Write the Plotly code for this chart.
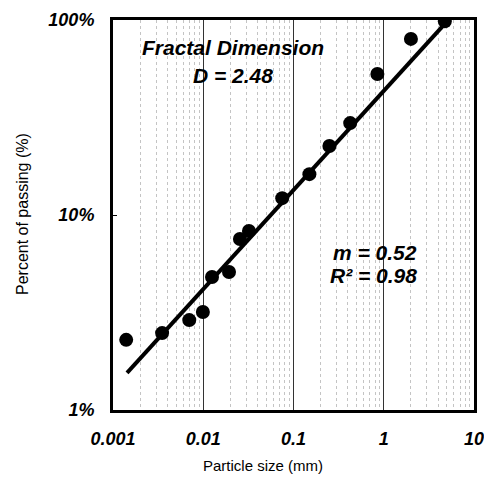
import plotly.graph_objects as go

# Data (particle size in mm, percent passing)
size_mm = [0.0014, 0.0035, 0.0070, 0.0099, 0.0125, 0.0193, 0.0255, 0.0321,
           0.075, 0.15, 0.25, 0.425, 0.85, 2.0, 4.75]
passing_pct = [2.29, 2.48, 2.89, 3.18, 4.81, 5.10, 7.53, 8.28,
               12.2, 16.2, 22.6, 29.6, 52.9, 80.0, 98.5]

# Fitted line end points
fit_x = [0.00143, 5.0]
fit_y = [1.55, 98.0]

x_tickvals = [0.001, 0.01, 0.1, 1, 10]
x_ticktext = ["0.001", "0.01", "0.1", "1", "10"]
y_tickvals = [1, 10, 100]
y_ticktext = ["1%", "10%", "100%"]

FONT = "Liberation Sans, Arial, sans-serif"
PAGE_W, PAGE_H = 492, 481
OFF = 8  # default body margin of the html page
W, H = PAGE_W - OFF, PAGE_H - OFF
# plot area in page pixels: x 113..474, y 20..410
PL, PR, PT, PB = 113, 474, 20, 410
L, T = PL - OFF, PT - OFF
R = OFF + W - PR
B = OFF + H - PB
PW, PH = PR - PL, PB - PT

fig = go.Figure()
fig.add_trace(go.Scatter(x=fit_x, y=fit_y, mode="lines",
                         line=dict(color="black", width=4), showlegend=False))
fig.add_trace(go.Scatter(x=size_mm, y=passing_pct, mode="markers",
                         marker=dict(color="black", size=14), showlegend=False))

tickfont = dict(family=FONT, size=18, color="black", weight="bold", style="italic")

fig.update_xaxes(type="log", range=[-3, 1], tickvals=x_tickvals, ticktext=x_ticktext,
                 tickfont=tickfont, showline=True, linecolor="black", linewidth=3,
                 mirror=True, showgrid=True, gridcolor="#333", gridwidth=1.3,
                 ticks="outside", ticklen=0, ticklabelstandoff=10, zeroline=False,
                 automargin=False,
                 minor=dict(dtick="D1", showgrid=True, gridcolor="#c4c4c4",
                            griddash="dot", gridwidth=1))
fig.update_yaxes(type="log", range=[0, 2], tickvals=y_tickvals, ticktext=y_ticktext,
                 tickfont=tickfont, showline=True, linecolor="black", linewidth=3,
                 mirror=True, showgrid=False, ticks="inside", ticklen=4,
                 tickcolor="black", ticklabelstandoff=12, zeroline=False,
                 automargin=False)

def px2paper(px, py):
    return (px - PL) / PW, (PB - py) / PH

ann_font = dict(family=FONT, size=21, color="black", weight="bold", style="italic")
annots = [
    ("Fractal Dimension", 233, 48),
    ("D = 2.48", 233, 75),
    ("m = 0.52", 375, 252),
    ("R² = 0.98", 373, 275),
]
for txt, px, py in annots:
    ax, ay = px2paper(px, py)
    fig.add_annotation(x=ax, y=ay, xref="paper", yref="paper", text=txt,
                       showarrow=False, font=ann_font, xanchor="center", yanchor="middle")

ax, ay = px2paper(263, 465)
fig.add_annotation(x=ax, y=ay, xref="paper", yref="paper",
                   text="Particle size (mm)", showarrow=False,
                   font=dict(family=FONT, size=15, color="black"),
                   xanchor="center", yanchor="middle")
ax, ay = px2paper(22, 214)
fig.add_annotation(x=ax, y=ay, xref="paper", yref="paper",
                   text="Percent of passing (%)", showarrow=False,
                   font=dict(family=FONT, size=16, color="black"),
                   textangle=-90, xanchor="center", yanchor="middle")

fig.update_layout(width=W, height=H, plot_bgcolor="white", paper_bgcolor="white",
                  margin=dict(l=L, r=R, t=T, b=B))

fig.write_html("out.html")
